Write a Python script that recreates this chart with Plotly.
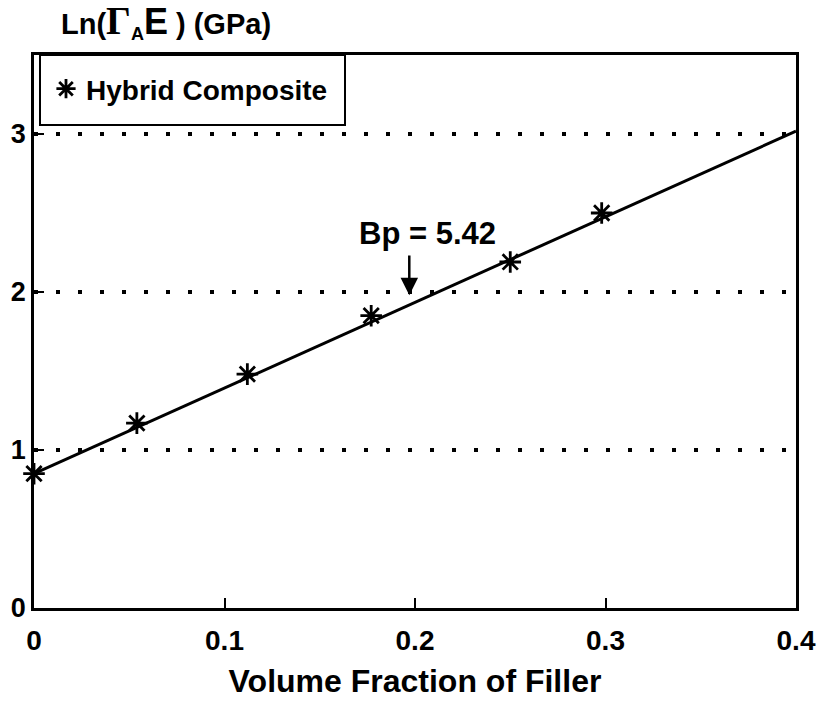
import plotly.graph_objects as go

# Measured points for the hybrid composite
volume_fraction = [0.0, 0.054, 0.112, 0.177, 0.250, 0.298]
ln_gamma_e = [0.85, 1.17, 1.48, 1.85, 2.19, 2.50]

# Linear fit: slope Bp and intercept
slope_bp = 5.42
intercept = 0.85
fit_x = [0.0, 0.4]
fit_y = [intercept + slope_bp * x for x in fit_x]

x_ticks = [0, 0.1, 0.2, 0.3, 0.4]
x_tick_text = ["0", "0.1", "0.2", "0.3", "0.4"]
y_ticks = [0, 1, 2, 3]
y_tick_text = ["0", "1", "2", "3"]
grid_levels = [1, 2, 3]

font_main = "Liberation Sans, Arial, sans-serif"

fig = go.Figure()

# dotted reference lines
for yv in grid_levels:
    fig.add_trace(go.Scatter(
        x=[0, 0.4], y=[yv, yv], mode="lines",
        line=dict(color="black", width=4, dash="4px,18px"),
        showlegend=False, hoverinfo="skip"))

fig.add_trace(go.Scatter(
    x=fit_x, y=fit_y, mode="lines",
    line=dict(color="black", width=3),
    showlegend=False, hoverinfo="skip"))

fig.add_trace(go.Scatter(
    x=volume_fraction, y=ln_gamma_e, mode="markers",
    name="<b>Hybrid Composite</b>",
    marker=dict(symbol="asterisk-open", size=18, color="black",
                line=dict(color="black", width=2.8)),
    cliponaxis=False))

# arrow pointing at the fitted line
fig.add_annotation(
    x=0.197, y=1.98, ax=0.197, ay=2.24, xref="x", yref="y",
    axref="x", ayref="y", text="", showarrow=True,
    arrowhead=2, arrowsize=1.4, arrowwidth=2.5, arrowcolor="black")
fig.add_annotation(
    x=0.2065, y=2.37, xref="x", yref="y", text="<b>Bp = 5.42</b>",
    showarrow=False, font=dict(family=font_main, size=31, color="black"),
    yanchor="middle")

# axis label of the y axis, placed above the plot
fig.add_annotation(
    x=(59 - 34) / 762, y=1 + (55 - 22) / 553, xref="paper", yref="paper",
    xanchor="left", yanchor="middle", showarrow=False,
    text=("<b>Ln(</b><span style=\"font-family:'Liberation Serif', serif; font-size:39px\"><b>Γ</b></span>"
          "<sub><span style=\"font-size:18px\"><b>A</b></span></sub>"
          "<span style=\"font-size:36px\"><b>E</b></span><b> ) (GPa)</b>"),
    font=dict(family=font_main, size=29, color="black"))

# frame around the legend
fig.add_shape(
    type="rect", xref="paper", yref="paper",
    x0=(40 - 34) / 762, x1=(345 - 34) / 762,
    y0=(608 - 125) / 553, y1=1.0,
    line=dict(color="black", width=2), fillcolor="white", layer="above")

fig.update_layout(
    width=818, height=701,
    margin=dict(l=34, r=22, t=55, b=93, autoexpand=False),
    paper_bgcolor="white", plot_bgcolor="white",
    font=dict(family=font_main, color="black"),
    showlegend=True,
    legend=dict(x=(46 - 34) / 762, y=(608 - 89) / 553, xanchor="left", yanchor="middle",
                bgcolor="rgba(0,0,0,0)", borderwidth=0,
                font=dict(family=font_main, size=28, color="black"),
                itemwidth=30),
    xaxis=dict(range=[0, 0.4], tickvals=x_ticks, ticktext=["<b>%s</b>" % t for t in x_tick_text],
               ticks="inside", ticklen=10, tickwidth=2, tickcolor="black",
               showline=True, linecolor="black", linewidth=2.5, mirror=True,
               showgrid=False, zeroline=False, ticklabelstandoff=6, automargin=False,
               tickfont=dict(family=font_main, size=28, color="black"),
               title=dict(text="<b>Volume Fraction of Filler</b>",
                          font=dict(family=font_main, size=32, color="black"))),
    yaxis=dict(range=[0, 3.5], tickvals=y_ticks, ticktext=["<b>%s</b>" % t for t in y_tick_text],
               ticks="inside", ticklen=10, tickwidth=2, tickcolor="black",
               showline=True, linecolor="black", linewidth=2.5, mirror=True,
               showgrid=False, zeroline=False, automargin=False,
               tickfont=dict(family=font_main, size=27, color="black")),
)

fig.write_html("out.html")
